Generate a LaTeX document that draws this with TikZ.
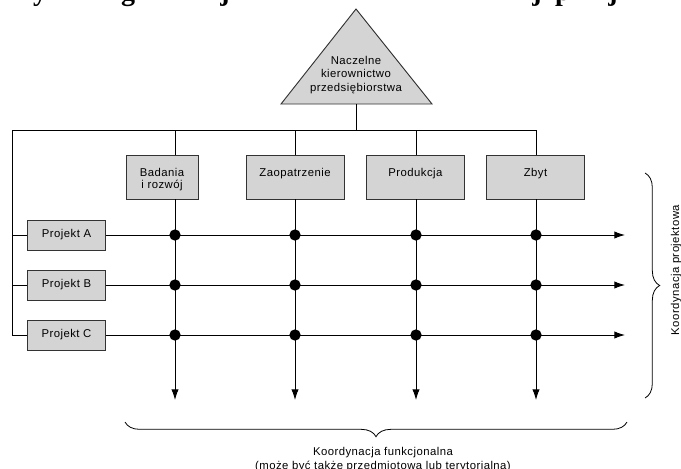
\documentclass[tikz,border=0pt]{standalone}
\usepackage{fontspec}
\setmainfont{Liberation Sans}[LetterSpace=4]
\newfontfamily\titlefont{Liberation Serif}
\usetikzlibrary{arrows.meta,decorations.pathreplacing}

\begin{document}
\begin{tikzpicture}[x=0.75pt,y=-0.75pt,line width=0.7pt,
    font=\fontsize{8.5}{10}\selectfont,
    dept/.style={draw=black!80,fill=black!17,minimum height=33pt,inner sep=0pt},
    depttxt/.style={align=center,anchor=north,inner sep=0pt,font=\fontsize{8.5}{9}\selectfont},
    proj/.style={draw=black!80,fill=black!17,minimum width=59pt,minimum height=22.5pt,inner sep=0pt},
    dot/.style={circle,fill=black,inner sep=0pt,minimum size=8.5pt},
    arr/.style={-{Latex[length=8pt,width=5.5pt]}},
    brc/.style={decorate,decoration={brace,amplitude=11pt}}]
    \useasboundingbox (0,0) rectangle (681,468);
    \clip (0,0) rectangle (681,468);

    % resztki tytulu (uciete)
    \foreach \i/\x/\c in {1/40/y,2/128/g,3/225/j,4/537/j,5/563/p,6/613/j}
        \node[font=\titlefont\bfseries\fontsize{21}{21}\selectfont,anchor=base,inner sep=0pt] (t\i) at (\x,0.5) {\c};

    % kierownictwo
    \draw[black!80,fill=black!17] (281,104) coordinate (triL) -- (356,9) coordinate (triT) -- (432,104) coordinate (triR) -- cycle;
    \node[align=center] (top) at (356,75) {Naczelne\\kierownictwo\\przedsiębiorstwa};
    \coordinate (topb) at (356,104);
    \coordinate (busL) at (12,130);
    \coordinate (busR) at (536,130);
    \draw (topb) -- (topb |- busL);
    \draw (busL) -- (busR);

    % piony funkcjonalne
    \foreach \n/\bx/\cx/\w/\t in {bad/162/175/54/{Badania\\i rozwój},zao/295/295/73.5/Zaopatrzenie,pro/415.5/416/74/Produkcja,zby/535.5/536/74/Zbyt}
    {
        \node[dept,minimum width=\w pt] (\n) at (\bx,177) {};
        \node[depttxt] (\n-txt) at (\bx,168) {\t};
        \coordinate (\n-t) at (\cx,130);
        \coordinate (\n-e) at (\cx,400);
        \draw (\n-t) -- (\n-t |- \n.north);
        \draw[arr] (\n-t |- \n.south) -- (\n-e);
    }

    % projekty
    \foreach \n/\y/\t in {pA/235/Projekt A,pB/285/Projekt B,pC/335/Projekt C}
    {
        \node[proj] (\n) at (66.5,\y) {\t};
        \coordinate (\n-l) at (12,\y);
        \coordinate (\n-e) at (625,\y);
        \draw (\n-l) -- (\n);
        \draw[arr] (\n) -- (\n-e);
    }
    \draw (busL) -- (pC-l);

    \foreach \r in {pA,pB,pC}
        \foreach \c in {bad,zao,pro,zby}
            \node[dot] (\r\c) at (\c-t |- \r) {};

    % klamry
    \coordinate (kpT) at (645,173);
    \coordinate (kpB) at (645,398);
    \draw[brc,line width=0.6pt] (kpT) -- (kpB);
    \node[rotate=90,anchor=base,inner sep=0pt] (kp) at (679,270) {Koordynacja projektowa};
    \coordinate (kfR) at (627,422);
    \coordinate (kfL) at (125,422);
    \draw[brc,line width=0.6pt] (kfR) -- (kfL);
    \node[align=center,anchor=north,inner sep=0pt] (kf) at (383,447) {Koordynacja funkcjonalna\\(może być także przedmiotowa lub terytorialna)};
\end{tikzpicture}
\end{document}
